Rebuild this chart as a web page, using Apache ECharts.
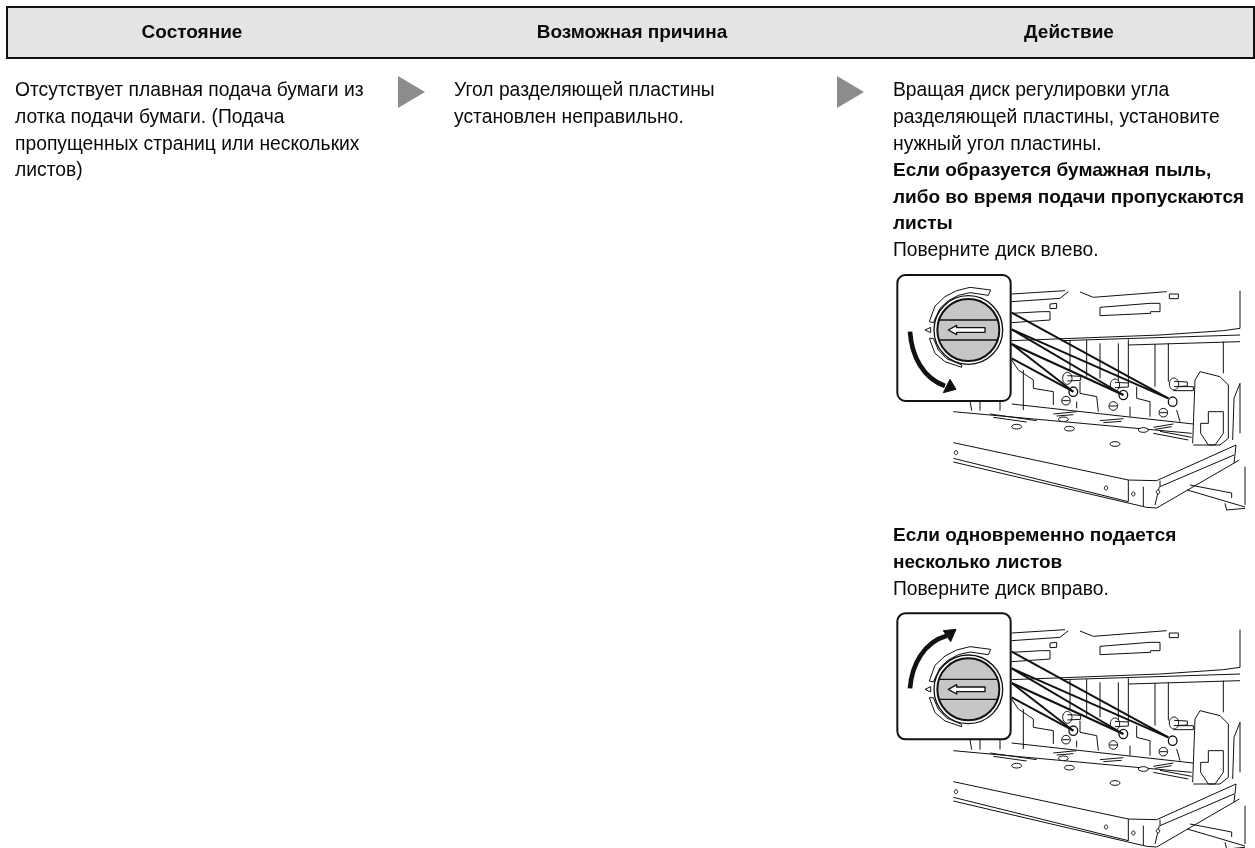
<!DOCTYPE html>
<html>
<head>
<meta charset="utf-8">
<style>html,body{margin:0;padding:0;background:#fff}#main{width:1255px;height:848px}</style>
<script src="https://cdn.jsdelivr.net/npm/echarts@6/dist/echarts.min.js"></script>
</head>
<body>
<div id="main"></div>
<script>
const headers = ['Состояние', 'Возможная причина', 'Действие'];
const stateLines = ['Отсутствует плавная подача бумаги из', 'лотка подачи бумаги. (Подача', 'пропущенных страниц или нескольких', 'листов)'];
const causeLines = ['Угол разделяющей пластины', 'установлен неправильно.'];
const actionLines = [
  ['Вращая диск регулировки угла', false],
  ['разделяющей пластины, установите', false],
  ['нужный угол пластины.', false],
  ['Если образуется бумажная пыль,', true],
  ['либо во время подачи пропускаются', true],
  ['листы', true],
  ['Поверните диск влево.', false]
];
const actionLines2 = [
  ['Если одновременно подается', true],
  ['несколько листов', true],
  ['Поверните диск вправо.', false]
];

const FONT = '"Liberation Sans", Arial, sans-serif';
const chart = echarts.init(document.getElementById('main'), null, { renderer: 'canvas' });

function text(x, y, str, bold, align) {
  return {
    type: 'text', x: x, y: y,
    style: {
      text: str, fill: '#0a0a0a', font: (bold ? 'bold 19px ' : '19.3px ') + FONT,
      textAlign: align || 'left', textVerticalAlign: 'middle'
    }
  };
}

// flat list x,y,x,y...
function poly(flat, w, fill) {
  const pts = [];
  for (let i = 0; i < flat.length; i += 2) pts.push([flat[i], flat[i + 1]]);
  return {
    type: fill ? 'polygon' : 'polyline',
    shape: { points: pts },
    style: { fill: fill || null, stroke: '#111', lineWidth: w || 3, lineJoin: 'round' }
  };
}

function ring(cx, cy, rx, ry, w, fill) {
  return { type: 'ellipse', shape: { cx: cx, cy: cy, rx: rx, ry: ry }, style: { fill: fill || '#fff', stroke: '#111', lineWidth: w || 3 } };
}

// tray picture, drawn in the 3x coordinates of the zoomed crop
function figure(x, y, clockwise) {
  const m = [
    // upper frame
    [395, 95, 540, 85, 565, 65], [395, 72, 555, 62], [510, 102, 530, 100, 530, 115, 510, 116, 510, 102],
    [600, 66, 640, 82, 860, 65], [868, 72, 895, 72, 895, 86, 868, 86, 868, 72],
    [660, 112, 810, 100, 840, 100, 840, 125, 812, 125, 812, 130, 660, 137, 660, 112],
    [395, 130, 485, 125, 510, 125, 510, 150, 395, 158],
    [1080, 62, 1080, 175, 1030, 182, 840, 195, 395, 212],
    [545, 212, 1080, 195], [745, 225, 1080, 215],
    // slats behind the tray
    [570, 210, 570, 300], [620, 210, 620, 320], [660, 220, 660, 325], [715, 220, 715, 335], [745, 208, 745, 340],
    [825, 222, 825, 350], [865, 220, 865, 335], [1030, 215, 1030, 310],
    [395, 270, 415, 300, 460, 330, 460, 355, 520, 365, 520, 405], [600, 335, 600, 370, 650, 380, 655, 425],
    [770, 350, 770, 385, 810, 395, 810, 440], [590, 395, 590, 415], [750, 410, 750, 440], [890, 420, 900, 455],
    [880, 350, 940, 350, 940, 362, 880, 362],
    // tray top
    [220, 425, 935, 490], [395, 402, 940, 462], [430, 300, 430, 420],
    [270, 392, 275, 422], [300, 392, 300, 422], [360, 392, 360, 422],
    // tray front edge
    [220, 518, 745, 630, 830, 632, 1068, 525, 1062, 580],
    [840, 632, 840, 650, 1062, 555], [745, 630, 745, 695], [790, 650, 790, 708], [838, 650, 825, 705],
    [220, 565, 745, 695], [220, 576, 800, 712, 830, 714, 1078, 570],
    [922, 660, 1095, 711], [930, 645, 1055, 669, 1055, 684], [1095, 590, 1095, 705], [1035, 700, 1040, 720, 1095, 715],
    // side guide
    [938, 520, 945, 330, 960, 305, 1020, 320, 1045, 345, 1045, 505, 1020, 525, 940, 525],
    [962, 460, 985, 460, 985, 425, 1030, 425, 1030, 490, 1005, 525, 985, 525, 962, 490, 962, 460],
    [1062, 385, 1080, 340], [1062, 385, 1058, 510], [1080, 340, 1080, 490]
  ];
  const kids = m.map(d => poly(d, 3));
  // hatched slots on the tray
  [[330, 432, 470, 452], [340, 442, 440, 456], [520, 432, 590, 425], [530, 438, 580, 434], [660, 452, 730, 446], [670, 458, 725, 454],
    [820, 472, 880, 462], [825, 478, 875, 470], [820, 490, 925, 510], [840, 484, 935, 502]].forEach(d => kids.push(poly(d, 3)));
  // large holes and lever knobs
  [[410, 470], [550, 448], [568, 476], [705, 522], [790, 480]].forEach(h => kids.push(ring(h[0], h[1], 15, 7)));
  [[228, 548], [678, 654], [760, 672], [834, 666]].forEach(h => kids.push(ring(h[0], h[1], 5, 6)));
  [[562, 325], [705, 345], [882, 342]].forEach(h => kids.push(ring(h[0], h[1], 14, 18), poly([h[0], h[1] - 8, h[0] + 40, h[1] - 6, h[0] + 40, h[1] + 6, h[0], h[1] + 8], 3)));
  [[558, 392], [700, 408], [850, 428]].forEach(h => kids.push(ring(h[0], h[1], 13, 13), poly([h[0] - 11, h[1], h[0] + 11, h[1]], 3)));
  [[580, 365], [730, 375], [878, 395]].forEach(h => kids.push(ring(h[0], h[1], 13, 14, 4)));
  // pointer wedges from the inset to the knobs
  [[395, 128, 865, 385], [395, 178, 865, 385], [395, 178, 730, 375], [395, 222, 730, 375], [395, 222, 580, 365], [395, 265, 580, 365]]
    .forEach(d => kids.push(poly(d, 6)));
  // inset frame
  kids.push({ type: 'rect', shape: { x: 52, y: clockwise ? 13 : 15, width: 340, height: 378, r: 24 }, style: { fill: '#fff', stroke: '#111', lineWidth: 6 } });
  const cx = 265;
  const cy = clockwise ? 241 : 180;
  const dy = cy - 180;
  // scale band round the dial
  const band = [148, 155, 165, 108, 195, 80, 230, 62, 270, 52, 332, 60, 325, 76, 270, 68, 235, 76, 205, 92, 180, 115, 160, 158];
  kids.push(poly(band.map((v, i) => i % 2 ? v + dy : v), 3, '#fff'));
  const low = [148, 205, 165, 250, 195, 275, 245, 292, 245, 285, 200, 266, 175, 240, 160, 205];
  kids.push(poly(low.map((v, i) => i % 2 ? v + dy : v), 3, '#fff'));
  kids.push(poly([135, cy, 152, cy - 8, 152, cy + 8], 3, '#fff'));
  kids.push({ type: 'circle', shape: { cx: cx, cy: cy, r: 103 }, style: { fill: '#fff', stroke: '#111', lineWidth: 4 } });
  kids.push({ type: 'circle', shape: { cx: cx, cy: cy, r: 93 }, style: { fill: '#c6c6c6', stroke: '#111', lineWidth: 6 } });
  kids.push(poly([178, cy - 30, 352, cy - 30], 4), poly([178, cy + 30, 352, cy + 30], 4));
  kids.push(poly([315, cy - 7, 230, cy - 7, 230, cy - 14, 205, cy, 230, cy + 14, 230, cy + 7, 315, cy + 7], 4, '#fff'));
  // rotation arrow
  if (clockwise) {
    kids.push({ type: 'bezierCurve', shape: { x1: 90, y1: 238, cpx1: 95, cpy1: 170, cpx2: 130, cpy2: 100, x2: 200, y2: 80 }, style: { stroke: '#111', lineWidth: 14, fill: null } });
    kids.push(poly([190, 65, 228, 61, 212, 98], 3, '#111'));
  } else {
    kids.push({ type: 'bezierCurve', shape: { x1: 90, y1: 185, cpx1: 95, cpy1: 260, cpx2: 130, cpy2: 325, x2: 195, y2: 348 }, style: { stroke: '#111', lineWidth: 14, fill: null } });
    kids.push(poly([190, 368, 228, 358, 210, 328], 3, '#111'));
  }
  return { type: 'group', x: x, y: y, scaleX: 1 / 3, scaleY: 1 / 3, children: kids };
}

const items = [];
items.push({ type: 'rect', shape: { x: 7, y: 7, width: 1247, height: 51 }, style: { fill: '#e4e4e4', stroke: '#111', lineWidth: 2 } });
items.push(text(192, 33, headers[0], true, 'center'));
items.push(text(632, 33, headers[1], true, 'center'));
items.push(text(1069, 33, headers[2], true, 'center'));

const LH = 26.6;
stateLines.forEach((s, i) => items.push(text(15, 91 + i * LH, s)));
causeLines.forEach((s, i) => items.push(text(454, 91 + i * LH, s)));
actionLines.forEach((s, i) => items.push(text(893, 91 + i * LH, s[0], s[1])));
actionLines2.forEach((s, i) => items.push(text(893, 536 + i * 27, s[0], s[1])));

[398, 837].forEach(x => items.push({ type: 'polygon', shape: { points: [[x, 76], [x + 27, 92], [x, 108]] }, style: { fill: '#8c8c8c' } }));

items.push(figure(880, 270, false));
items.push(figure(880, 609, true));

chart.setOption({ animation: false, backgroundColor: '#fff', graphic: { elements: items } });
</script>
</body>
</html>
